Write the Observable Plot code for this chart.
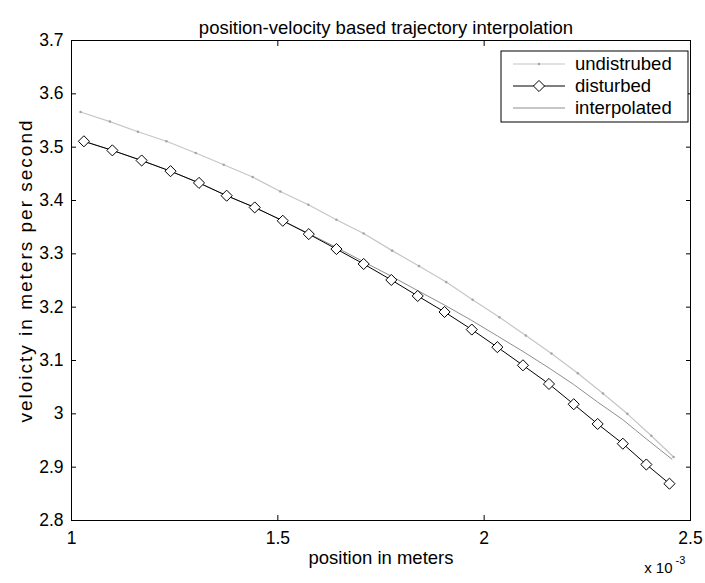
<!DOCTYPE html>
<html>
<head>
<meta charset="utf-8">
<script src="https://cdn.jsdelivr.net/npm/d3@7"></script>
<script src="https://cdn.jsdelivr.net/npm/@observablehq/plot@0.6"></script>
<style>
  body { margin: 0; background: #fff; }
  #chart { width: 705px; height: 583px; }
</style>
</head>
<body>
<div id="chart"></div>
<script>
// ---- texts ----
const title = "position-velocity based trajectory interpolation";
const xLabel = "position in meters";
const yLabel = "veloicty in meters per second";
const xExponentBase = "x 10";
const xExponent = "-3";
const seriesNames = ["undistrubed", "disturbed", "interpolated"];

// ---- ticks ----
const xTicks = [1, 1.5, 2, 2.5];
const xTickLabels = ["1", "1.5", "2", "2.5"];
const yTicks = [2.8, 2.9, 3.0, 3.1, 3.2, 3.3, 3.4, 3.5, 3.6, 3.7];
const yTickLabels = ["2.8", "2.9", "3", "3.1", "3.2", "3.3", "3.4", "3.5", "3.6", "3.7"];

// ---- series (position in units of 1e-3 m, velocity in m/s) ----
const undisturbedX = [1.022, 1.093, 1.161, 1.230, 1.301, 1.369, 1.439, 1.506, 1.574, 1.642, 1.708, 1.777, 1.842, 1.908, 1.972, 2.037, 2.101, 2.163, 2.227, 2.288, 2.347, 2.405, 2.459];
const undisturbedY = [3.566, 3.548, 3.529, 3.511, 3.489, 3.467, 3.444, 3.417, 3.392, 3.364, 3.338, 3.306, 3.277, 3.247, 3.214, 3.181, 3.147, 3.113, 3.076, 3.038, 3.000, 2.959, 2.919];

const disturbedX = [1.030, 1.099, 1.170, 1.240, 1.309, 1.376, 1.444, 1.512, 1.575, 1.642, 1.708, 1.775, 1.839, 1.904, 1.970, 2.032, 2.094, 2.157, 2.217, 2.275, 2.336, 2.393, 2.449];
const disturbedY = [3.511, 3.494, 3.475, 3.455, 3.433, 3.409, 3.387, 3.362, 3.337, 3.309, 3.281, 3.251, 3.221, 3.191, 3.158, 3.125, 3.091, 3.056, 3.018, 2.981, 2.944, 2.905, 2.869];

const interpolatedX = [1.030, 1.099, 1.170, 1.240, 1.309, 1.376, 1.444, 1.512, 1.575, 1.642, 1.708, 1.775, 1.839, 1.904, 1.970, 2.032, 2.094, 2.157, 2.217, 2.275, 2.336, 2.393, 2.455];
const interpolatedY = [3.511, 3.494, 3.475, 3.455, 3.433, 3.409, 3.387, 3.362, 3.338, 3.312, 3.285, 3.258, 3.231, 3.204, 3.175, 3.146, 3.117, 3.086, 3.055, 3.022, 2.989, 2.953, 2.915];

// ---- tables ----
const toRows = (xs, ys) => xs.map((x, i) => ({x, y: ys[i]}));
const undisturbed = toRows(undisturbedX, undisturbedY);
const disturbed = toRows(disturbedX, disturbedY);
const interpolated = toRows(interpolatedX, interpolatedY);

const colUndist = "#c6c6c6";
const colUndistDot = "#a6a6a6";
const colInterp = "#8e8e8e";
const font = "'Liberation Sans', Arial, Helvetica, sans-serif";

const W = 705, H = 583;
const mL = 71, mR = 15, mT = 40, mB = 63;
const tk = 5; // inward tick length

const chart = Plot.plot({
  width: W, height: H,
  marginLeft: mL, marginRight: mR, marginTop: mT, marginBottom: mB,
  style: {fontFamily: font, fontSize: "17.5px", background: "#fff", color: "#000", overflow: "visible"},
  x: {domain: [1, 2.5]},
  y: {domain: [2.8, 3.7]},
  marks: [
    Plot.line(undisturbed, {x: "x", y: "y", stroke: colUndist, strokeWidth: 1.2}),
    Plot.dot(undisturbed, {x: "x", y: "y", r: 1.3, fill: colUndistDot, stroke: null}),
    Plot.line(interpolated, {x: "x", y: "y", stroke: colInterp, strokeWidth: 1}),
    Plot.line(disturbed, {x: "x", y: "y", stroke: "#000", strokeWidth: 1}),
    Plot.dot(disturbed, {x: "x", y: "y", symbol: "diamond2", r: 5, fill: "#fff", stroke: "#000", strokeWidth: 1}),
    Plot.frame({stroke: "#000", strokeWidth: 1}),
    // tick labels
    Plot.axisX(xTicks, {anchor: "bottom", tickSize: 0, tickPadding: 11, label: null,
      tickFormat: d => xTickLabels[xTicks.indexOf(d)]}),
    Plot.axisY(yTicks, {anchor: "left", tickSize: 0, tickPadding: 8, label: null,
      tickFormat: d => yTickLabels[yTicks.indexOf(d)]}),
    // inward ticks on all four sides (ticks shifted back inside the frame)
    Plot.axisX(xTicks, {anchor: "bottom", tickSize: tk, dy: -tk, tickFormat: () => "", label: null}),
    Plot.axisX(xTicks, {anchor: "top", tickSize: tk, dy: tk, tickFormat: () => "", label: null}),
    Plot.axisY(yTicks, {anchor: "left", tickSize: tk, dx: tk, tickFormat: () => "", label: null}),
    Plot.axisY(yTicks, {anchor: "right", tickSize: tk, dx: -tk, tickFormat: () => "", label: null}),
    // title & labels
    Plot.text([title], {text: d => d, frameAnchor: "top", dx: 5, dy: -12, textAnchor: "middle", lineAnchor: "middle", fontSize: 18.5}),
    Plot.text([xLabel], {text: d => d, frameAnchor: "bottom", dy: 38, textAnchor: "middle", lineAnchor: "middle", fontSize: 18.5}),
    Plot.text([yLabel], {text: d => d, frameAnchor: "left", dx: -46, dy: -10, rotate: -90, textAnchor: "middle", lineAnchor: "middle", fontSize: 19}),
    Plot.text([xExponentBase], {text: d => d, frameAnchor: "bottom-right", dx: -18, dy: 48, textAnchor: "end", lineAnchor: "middle", fontSize: 15}),
    Plot.text([xExponent], {text: d => d, frameAnchor: "bottom-right", dx: -15, dy: 40, textAnchor: "start", lineAnchor: "middle", fontSize: 11})
  ]
});

// the scanned y label is stretched along its length
d3.select(chart).selectAll("text").filter(function () { return this.textContent === yLabel; })
  .attr("letter-spacing", "2px");

// ---- legend (drawn into the same SVG) ----
const svg = d3.select(chart);
const lg = svg.append("g").attr("font-family", font).attr("font-size", 18.5).attr("text-anchor", "start");
const boxX = 501, boxY = 51, boxW = 187, boxH = 71;
lg.append("rect").attr("x", boxX).attr("y", boxY).attr("width", boxW).attr("height", boxH)
  .attr("fill", "#fff").attr("stroke", "#000").attr("stroke-width", 1);
const rowY = [64, 86, 108];
const sx1 = boxX + 12, sx2 = boxX + 64, sm = (sx1 + sx2) / 2, tx = boxX + 74;
// undisturbed
lg.append("line").attr("x1", sx1).attr("x2", sx2).attr("y1", rowY[0]).attr("y2", rowY[0]).attr("stroke", colUndist).attr("stroke-width", 1.2);
lg.append("circle").attr("cx", sm).attr("cy", rowY[0]).attr("r", 1.3).attr("fill", colUndistDot);
// disturbed
lg.append("line").attr("x1", sx1).attr("x2", sx2).attr("y1", rowY[1]).attr("y2", rowY[1]).attr("stroke", "#000").attr("stroke-width", 1);
const d2 = d3.symbol(d3.symbolDiamond2, 5 * 5 * Math.PI)();
lg.append("path").attr("d", d2).attr("transform", `translate(${sm},${rowY[1]})`).attr("fill", "#fff").attr("stroke", "#000");
// interpolated
lg.append("line").attr("x1", sx1).attr("x2", sx2).attr("y1", rowY[2]).attr("y2", rowY[2]).attr("stroke", colInterp).attr("stroke-width", 1);
seriesNames.forEach((name, i) => {
  lg.append("text").attr("x", tx).attr("y", rowY[i]).attr("dy", "0.35em").attr("text-anchor", "start").text(name);
});

document.getElementById("chart").appendChild(chart);
</script>
</body>
</html>
